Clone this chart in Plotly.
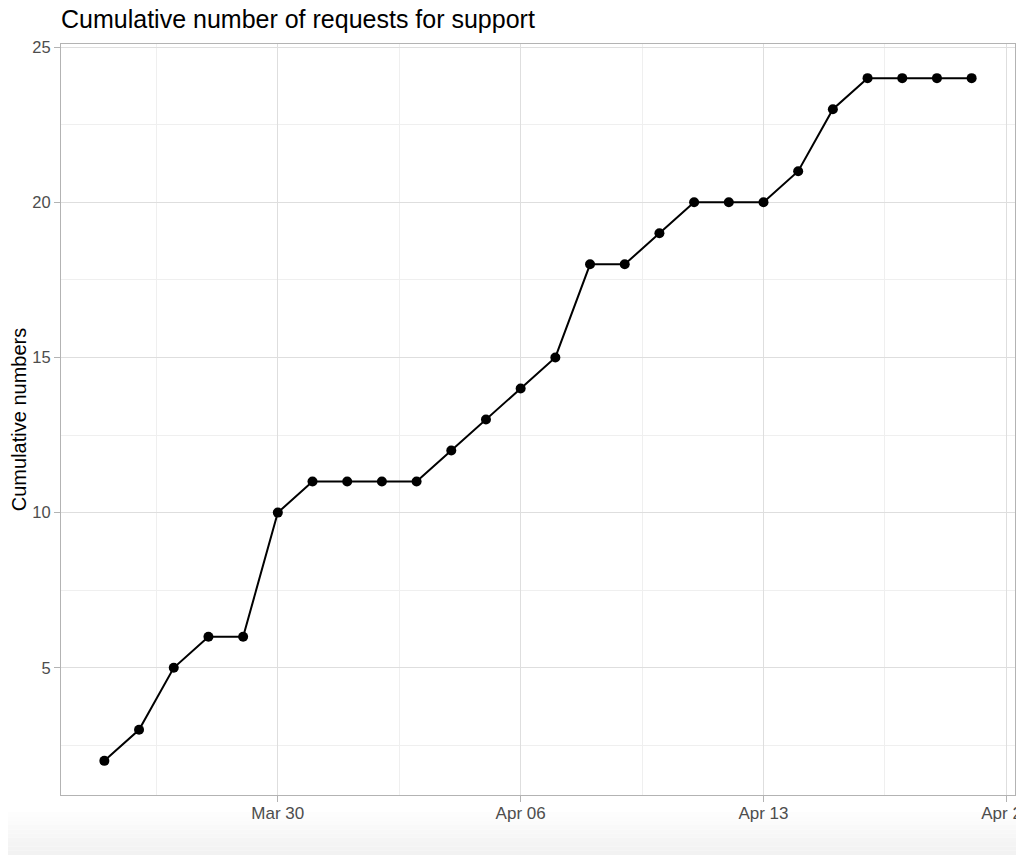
import plotly.graph_objects as go
import pandas as pd

dates = pd.date_range("2020-03-25", "2020-04-19", freq="D")
values = [2, 3, 5, 6, 6, 10, 11, 11, 11, 11, 12, 13, 14, 15, 18, 18, 19, 20, 20, 20, 21, 23, 24, 24, 24, 24]
x_tick_vals = ["2020-03-30", "2020-04-06", "2020-04-13", "2020-04-20"]
x_tick_text = ["Mar 30", "Apr 06", "Apr 13", "Apr 20"]
y_tick_vals = [5, 10, 15, 20, 25]

fig = go.Figure()
fig.add_trace(go.Scatter(
    x=dates, y=values, mode="lines+markers",
    line=dict(color="black", width=2),
    marker=dict(color="black", size=10),
    showlegend=False, cliponaxis=False,
))

grid_major = "#dedede"
grid_minor = "#efefef"

# page body has an 8px margin, so the figure is laid out 8px smaller
W, H = 1016, 847
L, R, T, B = 53, 9, 36, 60
PH = H - T - B
PW = W - L - R

fig.update_layout(
    width=W, height=H,
    paper_bgcolor="white", plot_bgcolor="white",
    margin=dict(l=L, r=R, t=T, b=B, autoexpand=False),
    font=dict(family="Liberation Sans, Arial, sans-serif", color="#4d4d4d"),
    title=dict(text="Cumulative number of requests for support",
               x=L/W, xanchor="left", y=1-11/H, yanchor="middle",
               font=dict(size=25, color="black")),
    xaxis=dict(
        range=["2020-03-23 18:00", "2020-04-20 06:00"],
        tickvals=x_tick_vals, ticktext=x_tick_text,
        showgrid=True, gridcolor=grid_major, gridwidth=1,
        minor=dict(tickvals=["2020-03-26 12:00", "2020-04-02 12:00", "2020-04-09 12:00", "2020-04-16 12:00"],
                   showgrid=True, gridcolor=grid_minor, gridwidth=1, ticks=""),
        ticks="outside", ticklen=6, tickcolor="#b3b3b3", tickwidth=1,
        tickfont=dict(size=17, color="#4d4d4d"),
        ticklabeloverflow="allow", ticklabelstandoff=-3,
        showline=True, linecolor="#b3b3b3", linewidth=1, mirror=True,
        zeroline=False, automargin=False,
    ),
    yaxis=dict(
        range=[0.9, 25.1],
        tickvals=y_tick_vals,
        showgrid=True, gridcolor=grid_major, gridwidth=1,
        minor=dict(tickvals=[2.5, 7.5, 12.5, 17.5, 22.5], showgrid=True, gridcolor=grid_minor, gridwidth=1, ticks=""),
        ticks="outside", ticklen=6, tickcolor="#b3b3b3", tickwidth=1,
        tickfont=dict(size=16.5, color="#4d4d4d"),
        showline=True, linecolor="#b3b3b3", linewidth=1, mirror=True,
        zeroline=False, automargin=False,
        title=dict(text="Cumulative numbers", font=dict(size=20, color="black"), standoff=12),
    ),
)

# light grey band at the bottom of the image (screenshot background)
n = 10
top_px, bot_px = 804, H
for i in range(n):
    y0 = top_px + (bot_px - top_px) * i / n
    y1 = top_px + (bot_px - top_px) * (i + 1) / n
    g = int(255 - (255 - 242) * (i + 1) / n)
    fig.add_shape(type="rect", xref="paper", yref="paper",
                  x0=-L/PW, x1=1 + R/PW,
                  y0=((H - B) - y1) / PH, y1=((H - B) - y0) / PH,
                  fillcolor=f"rgb({g},{g},{g})", line=dict(width=0), layer="below")

fig.write_html("out.html")
